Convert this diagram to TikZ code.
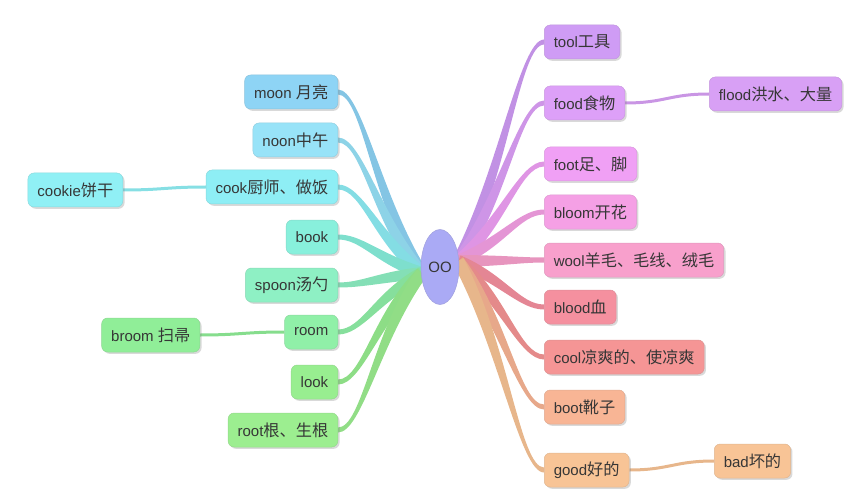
\documentclass[tikz,border=0pt]{standalone}
\usepackage{fontspec}
\setmainfont{Liberation Sans}
\newfontfamily\cjk{Noto Sans CJK SC}[Scale=1.08]
\usetikzlibrary{shapes.geometric,shadows,calc}
\pgfdeclarelayer{bg}\pgfsetlayers{bg,main}
\definecolor{txt}{HTML}{363636}
\definecolor{cmoon}{HTML}{8ED4F5}
\definecolor{cnoon}{HTML}{98E3F8}
\definecolor{ccook}{HTML}{8EEEF5}
\definecolor{ccookie}{HTML}{90F0F5}
\definecolor{cbook}{HTML}{88F0DC}
\definecolor{cspoon}{HTML}{8EF0C4}
\definecolor{croom}{HTML}{90F0A8}
\definecolor{cbroom}{HTML}{90EE98}
\definecolor{clook}{HTML}{98EE90}
\definecolor{croot}{HTML}{9CEE90}
\definecolor{ctool}{HTML}{CF9CF5}
\definecolor{cfood}{HTML}{DDA0F8}
\definecolor{cflood}{HTML}{D8A0F5}
\definecolor{cfoot}{HTML}{F0A0F5}
\definecolor{cbloom}{HTML}{F5A0E5}
\definecolor{cwool}{HTML}{F8A0CC}
\definecolor{cblood}{HTML}{F5909F}
\definecolor{ccool}{HTML}{F59595}
\definecolor{cboot}{HTML}{F8B595}
\definecolor{cgood}{HTML}{F8C496}
\definecolor{cbad}{HTML}{F8C496}
\definecolor{coo}{HTML}{AAAAF5}
\newcommand\zh[1]{{\cjk #1}}
\tikzset{
  box/.style={rounded corners=6pt, fill=#1, draw=#1!80!gray, line width=0.5pt,
    minimum height=34pt, inner ysep=0pt, inner xsep=9.5pt, text=txt,
    font=\fontsize{15}{18}\selectfont,
    drop shadow={shadow xshift=1.8pt, shadow yshift=-1.8pt, opacity=0.3}},
  sub/.style={line width=3pt, draw=#1!93!black}
}
% tapered branch, left node -> centre
\newcommand\brL[2]{%
 \fill[#2!93!black] let \p1=(#1.east), \p2=($(oo.west)+(1,6)$),
   \n1={(\y1-\y2)*0.4}, \n2={veclen(\n1,45)},
   \n3={6*(\n1)/(\n2)}, \n4={6*45/(\n2)} in
   (\x1,{\y1+2.5pt}) .. controls ({\x1+24pt},{\y1+2.5pt}) and
     ({\x2-45pt+0.9*(\n3)*1pt},{\y2+(\n1)*1pt+0.9*(\n4)*1pt}) ..
   ({\x2+(\n3)*1pt},{\y2+(\n4)*1pt}) -- ({\x2-(\n3)*1pt},{\y2-(\n4)*1pt}) .. controls
     ({\x2-45pt-0.9*(\n3)*1pt},{\y2+(\n1)*1pt-0.9*(\n4)*1pt}) and ({\x1+24pt},{\y1-2.5pt}) ..
   (\x1,{\y1-2.5pt}) -- cycle;}
% tapered branch, right node -> centre
\newcommand\brR[2]{%
 \fill[#2!93!black] let \p1=(#1.west), \p2=($(oo.east)+(-1,-6)$),
   \n1={(\y1-\y2)*0.4}, \n2={veclen(\n1,45)},
   \n3={-6*(\n1)/(\n2)}, \n4={6*45/(\n2)} in
   (\x1,{\y1+2.5pt}) .. controls ({\x1-24pt},{\y1+2.5pt}) and
     ({\x2+45pt+0.9*(\n3)*1pt},{\y2+(\n1)*1pt+0.9*(\n4)*1pt}) ..
   ({\x2+(\n3)*1pt},{\y2+(\n4)*1pt}) -- ({\x2-(\n3)*1pt},{\y2-(\n4)*1pt}) .. controls
     ({\x2+45pt-0.9*(\n3)*1pt},{\y2+(\n1)*1pt-0.9*(\n4)*1pt}) and ({\x1-24pt},{\y1-2.5pt}) ..
   (\x1,{\y1-2.5pt}) -- cycle;}
\begin{document}
\begin{tikzpicture}[x=1pt,y=-1pt]
\useasboundingbox (0,0) rectangle (868,500);
% centre
\node[ellipse, minimum width=38pt, minimum height=75pt, inner sep=0pt,
  fill=coo, draw=coo!80!gray, line width=0.5pt, text=txt,
  font=\fontsize{15}{18}\selectfont] (oo) at (440,267) {OO};
% left side
\node[box=cmoon, anchor=east] (moon) at (338,92) {moon \zh{月亮}};
\node[box=cnoon, anchor=east] (noon) at (338,140) {noon\zh{中午}};
\node[box=ccook, anchor=east] (cook) at (338,187) {cook\zh{厨师、做饭}};
\node[box=ccookie, anchor=east] (cookie) at (123,190) {cookie\zh{饼干}};
\node[box=cbook, anchor=east] (book) at (338,237) {book};
\node[box=cspoon, anchor=east] (spoon) at (338,285) {spoon\zh{汤勺}};
\node[box=croom, anchor=east] (room) at (338,332) {room};
\node[box=cbroom, anchor=east] (broom) at (200,335) {broom \zh{扫帚}};
\node[box=clook, anchor=east] (look) at (338,382) {look};
\node[box=croot, anchor=east] (root) at (338,430) {root\zh{根、生根}};
% right side
\node[box=ctool, anchor=west] (tool) at (544,42) {tool\zh{工具}};
\node[box=cfood, anchor=west] (food) at (544,103) {food\zh{食物}};
\node[box=cflood, anchor=west] (flood) at (709,94) {flood\zh{洪水、大量}};
\node[box=cfoot, anchor=west] (foot) at (544,164) {foot\zh{足、脚}};
\node[box=cbloom, anchor=west] (bloom) at (544,212) {bloom\zh{开花}};
\node[box=cwool, anchor=west] (wool) at (544,260) {wool\zh{羊毛、毛线、绒毛}};
\node[box=cblood, anchor=west] (blood) at (544,307) {blood\zh{血}};
\node[box=ccool, anchor=west] (cool) at (544,357) {cool\zh{凉爽的、使凉爽}};
\node[box=cboot, anchor=west] (boot) at (544,407) {boot\zh{靴子}};
\node[box=cgood, anchor=west] (good) at (544,470) {good\zh{好的}};
\node[box=cbad, anchor=west] (bad) at (714,461) {bad\zh{坏的}};
\begin{pgfonlayer}{bg}
\brL{moon}{cmoon}
\brL{noon}{cnoon}
\brL{cook}{ccook}
\brL{book}{cbook}
\brL{spoon}{cspoon}
\brL{room}{croom}
\brL{look}{clook}
\brL{root}{croot}
\brR{tool}{ctool}
\brR{food}{cfood}
\brR{foot}{cfoot}
\brR{bloom}{cbloom}
\brR{wool}{cwool}
\brR{blood}{cblood}
\brR{cool}{ccool}
\brR{boot}{cboot}
\brR{good}{cgood}
\draw[sub=ccookie] (cookie.east) .. controls +(40,0) and +(-40,0) .. (cook.west);
\draw[sub=cbroom] (broom.east) .. controls +(40,0) and +(-40,0) .. (room.west);
\draw[sub=cflood] (food.east) .. controls +(40,0) and +(-40,0) .. (flood.west);
\draw[sub=cbad] (good.east) .. controls +(40,0) and +(-40,0) .. (bad.west);
\end{pgfonlayer}
\end{tikzpicture}
\end{document}
